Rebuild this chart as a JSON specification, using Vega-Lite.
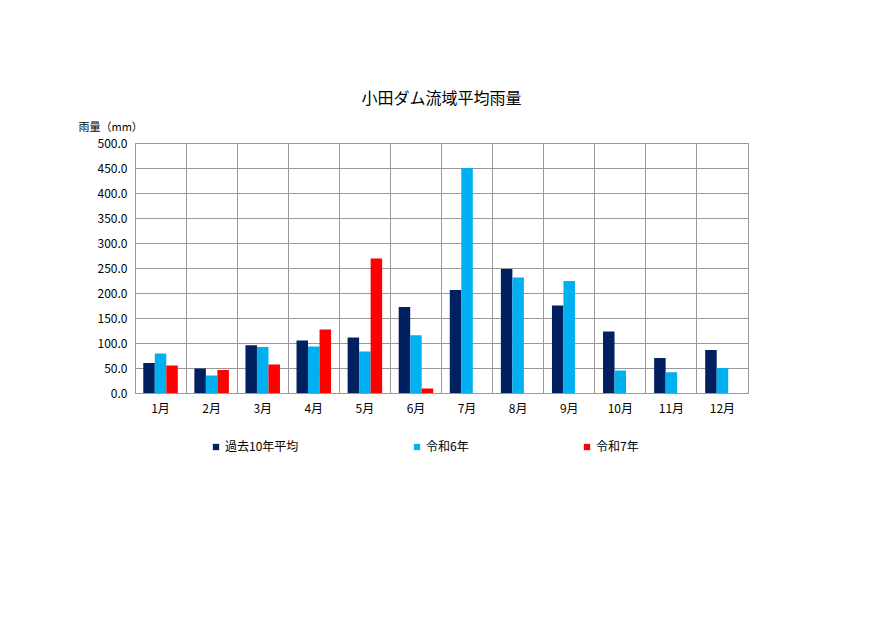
{
  "$schema": "https://vega.github.io/schema/vega-lite/v6.json",
  "description": "小田ダム流域平均雨量 monthly rainfall bars",
  "autosize": {"type": "none"},
  "padding": {"left": 135, "top": 143, "right": 142, "bottom": 237},
  "width": 613,
  "height": 250,
  "background": "white",
  "title": {
    "text": "小田ダム流域平均雨量",
    "fontSize": 16,
    "fontWeight": "normal",
    "font": "Noto Sans CJK JP",
    "color": "#000000",
    "anchor": "middle",
    "offset": 14
  },
  "data": {
    "values": [
      {"month": "1月", "series": "過去10年平均", "rain": 60},
      {"month": "1月", "series": "令和6年", "rain": 79},
      {"month": "1月", "series": "令和7年", "rain": 55},
      {"month": "2月", "series": "過去10年平均", "rain": 49},
      {"month": "2月", "series": "令和6年", "rain": 35},
      {"month": "2月", "series": "令和7年", "rain": 46},
      {"month": "3月", "series": "過去10年平均", "rain": 95.5},
      {"month": "3月", "series": "令和6年", "rain": 92},
      {"month": "3月", "series": "令和7年", "rain": 57},
      {"month": "4月", "series": "過去10年平均", "rain": 105},
      {"month": "4月", "series": "令和6年", "rain": 93},
      {"month": "4月", "series": "令和7年", "rain": 127},
      {"month": "5月", "series": "過去10年平均", "rain": 111},
      {"month": "5月", "series": "令和6年", "rain": 83},
      {"month": "5月", "series": "令和7年", "rain": 269},
      {"month": "6月", "series": "過去10年平均", "rain": 172},
      {"month": "6月", "series": "令和6年", "rain": 115.5},
      {"month": "6月", "series": "令和7年", "rain": 9},
      {"month": "7月", "series": "過去10年平均", "rain": 206},
      {"month": "7月", "series": "令和6年", "rain": 450},
      {"month": "8月", "series": "過去10年平均", "rain": 248},
      {"month": "8月", "series": "令和6年", "rain": 231},
      {"month": "9月", "series": "過去10年平均", "rain": 175},
      {"month": "9月", "series": "令和6年", "rain": 224},
      {"month": "10月", "series": "過去10年平均", "rain": 123},
      {"month": "10月", "series": "令和6年", "rain": 45},
      {"month": "11月", "series": "過去10年平均", "rain": 70},
      {"month": "11月", "series": "令和6年", "rain": 41.5},
      {"month": "12月", "series": "過去10年平均", "rain": 86},
      {"month": "12月", "series": "令和6年", "rain": 50}
    ]
  },
  "mark": {"type": "bar"},
  "encoding": {
    "x": {
      "field": "month",
      "type": "nominal",
      "sort": ["1月", "2月", "3月", "4月", "5月", "6月", "7月", "8月", "9月", "10月", "11月", "12月"],
      "scale": {"paddingInner": 0, "paddingOuter": 0},
      "axis": {
        "title": null,
        "labelAngle": 0,
        "labelPadding": 10,
        "ticks": false,
        "domain": false,
        "grid": true,
        "bandPosition": 0,
        "gridColor": "#999999",
        "gridWidth": 1,
        "gridOpacity": 1
      }
    },
    "xOffset": {
      "field": "series",
      "type": "nominal",
      "scale": {"domain": ["過去10年平均", "令和6年", "令和7年"], "paddingInner": 0, "paddingOuter": 0.72}
    },
    "y": {
      "field": "rain",
      "type": "quantitative",
      "scale": {"domain": [0, 500], "nice": false},
      "axis": {
        "title": "雨量（mm）",
        "titleAngle": 0,
        "titleAlign": "left",
        "titleBaseline": "bottom",
        "titleX": -57,
        "titleY": -11,
        "titleFontWeight": "normal",
        "titleFontSize": 11,
        "values": [0, 50, 100, 150, 200, 250, 300, 350, 400, 450, 500],
        "format": ".1f",
        "ticks": false,
        "domain": false,
        "labelPadding": 8,
        "gridColor": "#999999",
        "gridWidth": 1,
        "gridOpacity": 1
      }
    },
    "color": {
      "field": "series",
      "type": "nominal",
      "scale": {"domain": ["過去10年平均", "令和6年", "令和7年"], "range": ["#002060", "#00B0F0", "#FF0000"]},
      "legend": {
        "title": null,
        "orient": "none",
        "direction": "horizontal",
        "legendX": 75,
        "legendY": 298,
        "symbolType": "square",
        "symbolSize": 40,
        "symbolStrokeWidth": 0,
        "symbolOpacity": 1,
        "labelFontSize": 12,
        "labelOffset": 3,
        "columnPadding": 112
      }
    }
  },
  "config": {
    "font": "Noto Sans CJK JP",
    "view": {"stroke": "#999999", "strokeWidth": 1},
    "axis": {"labelFontSize": 12, "labelColor": "#000000", "titleColor": "#000000", "labelFont": "Noto Sans CJK JP", "titleFont": "Noto Sans CJK JP"},
    "legend": {"labelFont": "Noto Sans CJK JP", "labelColor": "#000000"}
  }
}
